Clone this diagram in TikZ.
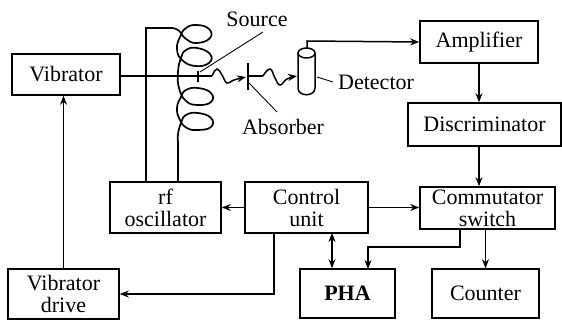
\documentclass[tikz,border=0pt]{standalone}
\usepackage{fontspec}
\usetikzlibrary{arrows.meta}
\setmainfont{Liberation Serif}
\tikzset{
  box/.style={draw,line width=1.6pt,align=center,inner sep=0pt,font=\fontsize{22}{22}\selectfont},
  lbl/.style={inner sep=0pt,font=\fontsize{22}{22}\selectfont},
  sig/.style={line width=1.5pt},
  sigto/.style={sig,-{Stealth[length=9pt,width=7pt]}},
  sigboth/.style={sig,{Stealth[length=9pt,width=7pt]}-{Stealth[length=9pt,width=7pt]}},
  leader/.style={line width=0.9pt}
}
\begin{document}
\begin{tikzpicture}[x=1pt,y=-1pt]
     \useasboundingbox (0,0) rectangle (562,320);
     % boxes
     \node[box,minimum width=108pt,minimum height=41pt] (vib) at (66,74.5) {Vibrator};
     \node[box,minimum width=111pt,minimum height=50pt] (drive) at (63.5,294) {Vibrator\\drive};
     \node[box,minimum width=111pt,minimum height=51pt] (rf) at (165.5,207.5) {rf\\oscillator};
     \node[box,minimum width=123pt,minimum height=51pt] (ctrl) at (306.5,207.5) {Control\\unit};
     \node[box,minimum width=118pt,minimum height=42pt] (amp) at (479,42) {Amplifier};
     \node[box,minimum width=153pt,minimum height=43pt] (disc) at (484.5,124.5) {Discriminator};
     \node[box,minimum width=135pt,minimum height=42pt] (comm) at (487.5,208) {Commutator\\switch};
     \node[box,minimum width=95pt,minimum height=49pt] (pha) at (347.5,293.5) {\textbf{PHA}};
     \node[box,minimum width=107pt,minimum height=49pt] (cnt) at (485.5,293.5) {Counter};
     % labels
     \node[lbl] (srclbl) at (257,19) {Source};
     \node[lbl] (abslbl) at (283,127) {Absorber};
     \node[lbl,anchor=west] (detlbl) at (338,82) {Detector};
     % points on the beam
     \coordinate (src) at (198,76);
     \coordinate (absb) at (248,76);
     \coordinate (rfl) at (146,182);
     \coordinate (rfr) at (178,182);
     \coordinate (dettop) at (307,49);
     \coordinate (ctrlout) at (274,233);
     \coordinate (ctrlpha) at (332,233);
     \coordinate (commout) at (460,229);
     \coordinate (commbend) at (460,247);
     \coordinate (phain) at (368,269);
     % detector
     \draw[sig,fill=white] (298,53) -- (298,88) .. controls (298,97) and (315,97) .. (315,88) -- (315,53);
     \draw[sig] (306.5,53) ellipse [x radius=8.5,y radius=5];
     % coil
     \draw[sig] (rfl) -- (146,28) -- (170,28);
     \draw[line width=1.7pt] plot[smooth,tension=0.8] coordinates {(170,28) (178,30) (186,39) (197,43) (210,38) (209,29)
       (197,25) (186,28) (180,37) (177,49) (182,60) (195,66) (209,63) (210,54) (197,48) (186,50) (181,58)
       (178,72) (179,88) (186,101) (198,105) (211,102) (211,93) (198,88) (186,90) (181,97) (177,108) (180,120)
       (187,128) (198,130) (211,127) (211,118) (198,113) (186,115) (181,123) (178,134) (178,142)};
     \draw[line width=1.7pt] (178,142) -- (rfr);
     % beam
     \draw[sig] (vib.east |- src) -- (src) -- (212,76);
     \draw[sigto] plot[smooth,tension=0.8] coordinates {(212,76) (217,69) (222,75) (227,83) (234,80) (246,77)};
     \draw[sig] (absb) -- (263,76);
     \draw[sigto] plot[smooth,tension=0.8] coordinates {(263,76) (270,69) (275,78) (280,85) (287,79) (297,76)};
     \draw[line width=2pt] (198,71) -- (198,82);
     \draw[line width=2.4pt] (248,63) -- (248,90);
     % leaders
     \draw[leader] (263,32) -- (200,72);
     \draw[leader] (277,112) -- (249,83);
     \draw[leader] (317,77) -- (333,82);
     % connectors
     \draw[sigto] (dettop) -- (307,41) -- (amp.west);
     \draw[sigto] (amp.south) -- (amp.south |- disc.north);
     \draw[sigto] (amp.south |- disc.south) -- (amp.south |- comm.north);
     \draw[sigto] (drive.north) -- (drive.north |- vib.south);
     \draw[sigto] (ctrl.west) -- (rf.east);
     \draw[sigto] (ctrl.east) -- (ctrl.east -| comm.west);
     \draw[sigto] (ctrlout) |- (drive.east);
     \draw[sigboth] (ctrlpha) -- (ctrlpha |- pha.north);
     \draw[sigto] (commout) -- (commbend) -| (phain);
     \draw[sigto] (cnt.north |- comm.south) -- (cnt.north);
\end{tikzpicture}
\end{document}
